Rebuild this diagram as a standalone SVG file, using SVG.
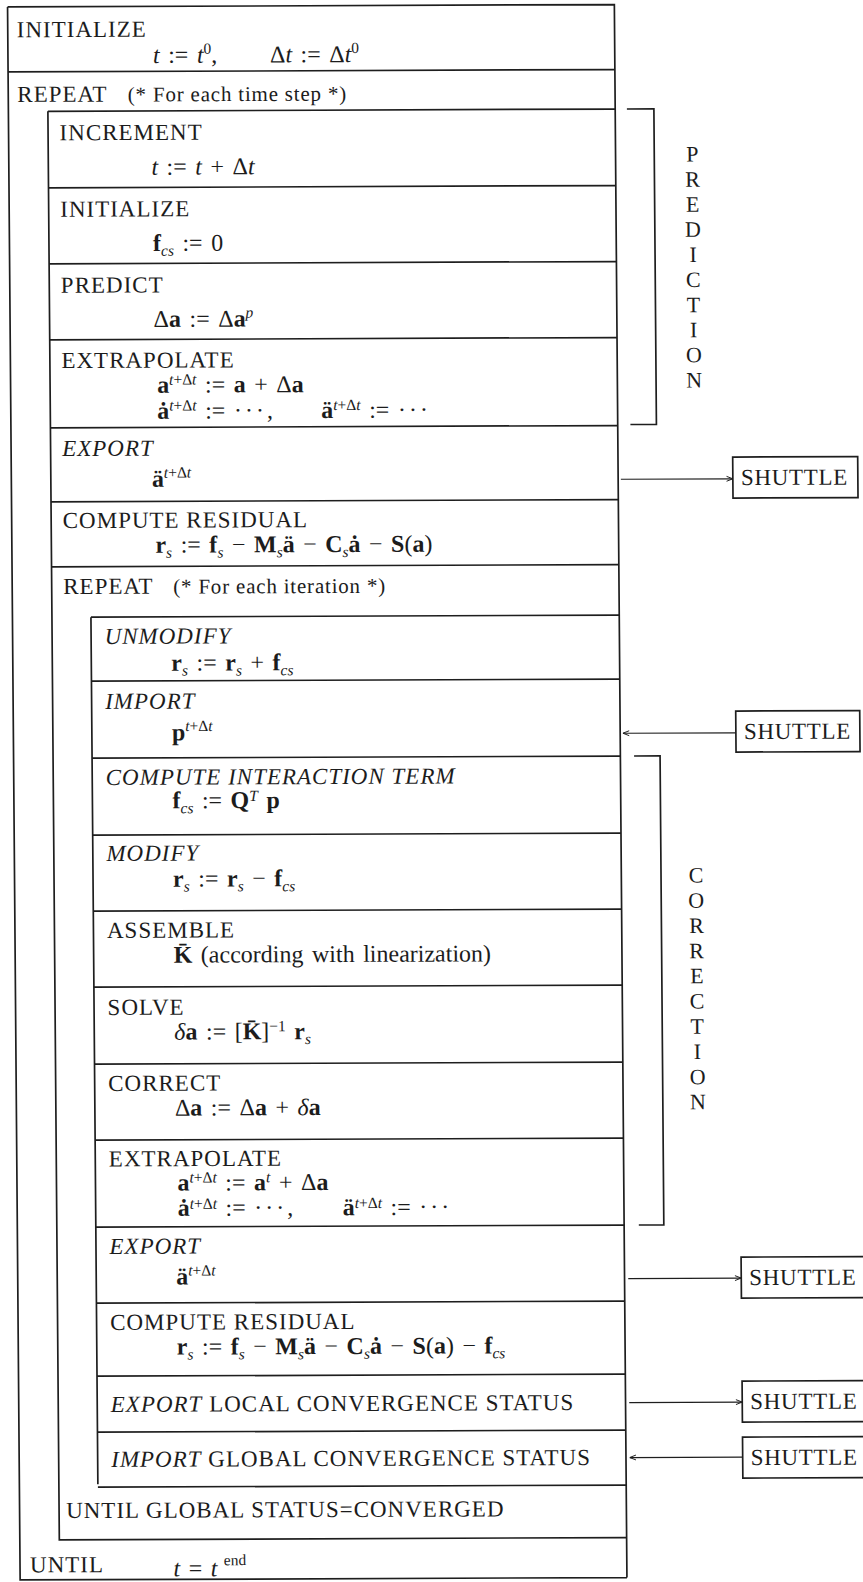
<svg xmlns="http://www.w3.org/2000/svg" width="863" height="1582" viewBox="0 0 863 1582">
<defs>
<style>
text { font-family: "Liberation Serif", "Times New Roman", serif; font-size: 23px; fill: #1c1c1c; }
.h { letter-spacing: 1px; }
.m { font-size: 24px; word-spacing: 2.5px; }
.i { font-style: italic; }
.b { font-weight: bold; }
.s { font-size: 15.5px; letter-spacing: 0; }
.c { font-size: 21px; letter-spacing: 0.8px; }
.lt { font-size: 22px; }
.sh { letter-spacing: 0.7px; }
.ln { stroke: #1e1e1e; stroke-width: 1.7; fill: none; }
.ar { stroke: #1e1e1e; stroke-width: 1.2; fill: none; }
.bx { stroke: #1e1e1e; stroke-width: 1.7; fill: #ffffff; }
</style>
<marker id="ah" viewBox="0 0 10 10" refX="10" refY="5" markerWidth="7" markerHeight="7" markerUnits="userSpaceOnUse" orient="auto">
<path d="M1,1.5 L10,5 L1,8.5" fill="none" stroke="#1e1e1e" stroke-width="1.4"/>
</marker>
</defs>
<rect width="863" height="1582" fill="#ffffff"/>
<g transform="matrix(1,-0.004,0.008,1,0,0)">

<g id="frame" class="ln">
<path d="M7.5,7 H614.3 V1580 M7.5,7 V1580 H614.3"/>
<path d="M7.5,72 H614.3"/>
<path d="M47,111.5 H614.3 M47,111.5 V1540 H614.3"/>
<path d="M47,188 H614.3 M47,264 H614.3 M47,340 H614.3 M47,428 H614.3 M47,502 H614.3 M47,567 H614.3"/>
<path d="M86,617.5 H614.3 M86,617.5 V1484.5 M86,1487.5 H614.3"/>
<path d="M86,681.5 H614.3 M86,758.5 H614.3 M86,835.5 H614.3 M86,911.5 H614.3 M86,987.5 H614.3 M86,1064.5 H614.3 M86,1140.5 H614.3 M86,1227.5 H614.3 M86,1303.5 H614.3 M86,1376.5 H614.3 M86,1432.5 H614.3"/>
</g>

<g id="n-initialize">
<text class="h" x="16.5" y="37.3">INITIALIZE</text>
<text class="m" x="152.5" y="63.5"><tspan class="i">t</tspan> := <tspan class="i">t</tspan><tspan class="s" dy="-9">0</tspan><tspan dy="9">,</tspan></text>
<text class="m" x="269.5" y="63.5">Δ<tspan class="i">t</tspan> := Δ<tspan class="i">t</tspan><tspan class="s" dy="-9">0</tspan></text>
</g>

<g id="n-repeat-time">
<text class="h" x="16.5" y="102">REPEAT</text>
<text class="c" x="127" y="102">(* For each time step *)</text>
</g>

<g id="n-increment">
<text class="h" x="58.5" y="140.5">INCREMENT</text>
<text class="m" x="150" y="175.3"><tspan class="i">t</tspan> := <tspan class="i">t</tspan> + Δ<tspan class="i">t</tspan></text>
</g>

<g id="n-initialize2">
<text class="h" x="58.5" y="217">INITIALIZE</text>
<text class="m" x="151" y="251.5"><tspan class="b">f</tspan><tspan class="s i" dy="5">cs</tspan><tspan dy="-5"> := 0</tspan></text>
</g>

<g id="n-predict">
<text class="h" x="58.5" y="293">PREDICT</text>
<text class="m" x="151" y="327.5">Δ<tspan class="b">a</tspan> := Δ<tspan class="b">a</tspan><tspan class="s i" dy="-9">p</tspan></text>
</g>

<g id="n-extrapolate1">
<text class="h" x="58.5" y="368.3">EXTRAPOLATE</text>
<text class="m" x="154" y="393.3"><tspan class="b">a</tspan><tspan class="s i" dy="-8">t</tspan><tspan class="s">+Δ</tspan><tspan class="s i">t</tspan><tspan dy="8"> := </tspan><tspan class="b">a</tspan> + Δ<tspan class="b">a</tspan></text>
<text class="m" x="154" y="419.3"><tspan class="b">ȧ</tspan><tspan class="s i" dy="-8">t</tspan><tspan class="s">+Δ</tspan><tspan class="s i">t</tspan><tspan dy="8"> := </tspan><tspan letter-spacing="3">···</tspan>,</text>
<text class="m" x="318" y="419.3"><tspan class="b">ä</tspan><tspan class="s i" dy="-8">t</tspan><tspan class="s">+Δ</tspan><tspan class="s i">t</tspan><tspan dy="8"> := </tspan><tspan letter-spacing="3">···</tspan></text>
</g>

<g id="n-export1">
<text class="h i" x="58.5" y="456.3">EXPORT</text>
<text class="m" x="148" y="487.3"><tspan class="b">ä</tspan><tspan class="s i" dy="-9">t</tspan><tspan class="s">+Δ</tspan><tspan class="s i">t</tspan></text>
</g>

<g id="n-residual1">
<text class="h" x="58.5" y="528.3">COMPUTE RESIDUAL</text>
<text class="m" x="151" y="553.3"><tspan class="b">r</tspan><tspan class="s i" dy="5">s</tspan><tspan dy="-5"> := </tspan><tspan class="b">f</tspan><tspan class="s i" dy="5">s</tspan><tspan dy="-5"> − </tspan><tspan class="b">M</tspan><tspan class="s i" dy="5">s</tspan><tspan class="b" dy="-5">ä</tspan> − <tspan class="b">C</tspan><tspan class="s i" dy="5">s</tspan><tspan class="b" dy="-5">ȧ</tspan> − <tspan class="b">S</tspan>(<tspan class="b">a</tspan>)</text>
</g>

<g id="n-repeat-iter">
<text class="h" x="58.5" y="594.3">REPEAT</text>
<text class="c" x="168.5" y="594.3">(* For each iteration *)</text>
</g>

<g id="n-unmodify">
<text class="h i" x="99.5" y="644.3">UNMODIFY</text>
<text class="m" x="166" y="671.3"><tspan class="b">r</tspan><tspan class="s i" dy="5">s</tspan><tspan dy="-5"> := </tspan><tspan class="b">r</tspan><tspan class="s i" dy="5">s</tspan><tspan dy="-5"> + </tspan><tspan class="b">f</tspan><tspan class="s i" dy="5">cs</tspan></text>
</g>

<g id="n-import">
<text class="h i" x="99.5" y="709.3">IMPORT</text>
<text class="m" x="166" y="740.8"><tspan class="b">p</tspan><tspan class="s i" dy="-9">t</tspan><tspan class="s">+Δ</tspan><tspan class="s i">t</tspan></text>
</g>

<g id="n-interaction">
<text class="h i" x="99.5" y="785.3">COMPUTE INTERACTION TERM</text>
<text class="m" x="166" y="809"><tspan class="b">f</tspan><tspan class="s i" dy="5">cs</tspan><tspan dy="-5"> := </tspan><tspan class="b">Q</tspan><tspan class="s i" dy="-7">T</tspan><tspan class="b" dy="7"> p</tspan></text>
</g>

<g id="n-modify">
<text class="h i" x="99.5" y="861.3">MODIFY</text>
<text class="m" x="166" y="887.3"><tspan class="b">r</tspan><tspan class="s i" dy="5">s</tspan><tspan dy="-5"> := </tspan><tspan class="b">r</tspan><tspan class="s i" dy="5">s</tspan><tspan dy="-5"> − </tspan><tspan class="b">f</tspan><tspan class="s i" dy="5">cs</tspan></text>
</g>

<g id="n-assemble">
<text class="h" x="99.5" y="938.3">ASSEMBLE</text>
<text class="m" x="166" y="963.3"><tspan class="b">K̄</tspan> (according with linearization)</text>
</g>

<g id="n-solve">
<text class="h" x="99.5" y="1015.3">SOLVE</text>
<text class="m" x="166" y="1040.3"><tspan class="i">δ</tspan><tspan class="b">a</tspan> := [<tspan class="b">K̄</tspan>]<tspan class="s" dy="-8">−1</tspan><tspan class="b" dy="8"> r</tspan><tspan class="s i" dy="5">s</tspan></text>
</g>

<g id="n-correct">
<text class="h" x="99.5" y="1091.3">CORRECT</text>
<text class="m" x="166" y="1116.3">Δ<tspan class="b">a</tspan> := Δ<tspan class="b">a</tspan> + <tspan class="i">δ</tspan><tspan class="b">a</tspan></text>
</g>

<g id="n-extrapolate2">
<text class="h" x="99.5" y="1166.8">EXTRAPOLATE</text>
<text class="m" x="168" y="1191.3"><tspan class="b">a</tspan><tspan class="s i" dy="-8">t</tspan><tspan class="s">+Δ</tspan><tspan class="s i">t</tspan><tspan dy="8"> := </tspan><tspan class="b">a</tspan><tspan class="s i" dy="-8">t</tspan><tspan dy="8"> + Δ</tspan><tspan class="b">a</tspan></text>
<text class="m" x="168" y="1216.5"><tspan class="b">ȧ</tspan><tspan class="s i" dy="-7">t</tspan><tspan class="s">+Δ</tspan><tspan class="s i">t</tspan><tspan dy="7"> := </tspan><tspan letter-spacing="3">···</tspan>,</text>
<text class="m" x="333" y="1216.5"><tspan class="b">ä</tspan><tspan class="s i" dy="-7">t</tspan><tspan class="s">+Δ</tspan><tspan class="s i">t</tspan><tspan dy="7"> := </tspan><tspan letter-spacing="3">···</tspan></text>
</g>

<g id="n-export2">
<text class="h i" x="99.5" y="1254.3">EXPORT</text>
<text class="m" x="166" y="1285.3"><tspan class="b">ä</tspan><tspan class="s i" dy="-9">t</tspan><tspan class="s">+Δ</tspan><tspan class="s i">t</tspan></text>
</g>

<g id="n-residual2">
<text class="h" x="99.5" y="1330.3">COMPUTE RESIDUAL</text>
<text class="m" x="166" y="1355.3"><tspan class="b">r</tspan><tspan class="s i" dy="5">s</tspan><tspan dy="-5"> := </tspan><tspan class="b">f</tspan><tspan class="s i" dy="5">s</tspan><tspan dy="-5"> − </tspan><tspan class="b">M</tspan><tspan class="s i" dy="5">s</tspan><tspan class="b" dy="-5">ä</tspan> − <tspan class="b">C</tspan><tspan class="s i" dy="5">s</tspan><tspan class="b" dy="-5">ȧ</tspan> − <tspan class="b">S</tspan>(<tspan class="b">a</tspan>) − <tspan class="b">f</tspan><tspan class="s i" dy="5">cs</tspan></text>
</g>

<g id="n-export-local">
<text class="h" x="99.5" y="1412.3"><tspan class="i">EXPORT</tspan> LOCAL CONVERGENCE STATUS</text>
</g>

<g id="n-import-global">
<text class="h" x="99.5" y="1467.3"><tspan class="i">IMPORT</tspan> GLOBAL CONVERGENCE STATUS</text>
</g>

<g id="n-until-global">
<text class="h" x="54" y="1518.3">UNTIL GLOBAL STATUS=CONVERGED</text>
</g>

<g id="n-until">
<text class="h" x="17.5" y="1572.5">UNTIL</text>
<text class="m" x="161" y="1577"><tspan class="i">t</tspan> = <tspan class="i">t</tspan><tspan class="s" dy="-11"> end</tspan></text>
</g>

<g id="prediction">
<path class="ln" d="M626,111.5 H653 V427 H627"/>
<text class="lt" text-anchor="middle"><tspan x="691" y="164.3">P</tspan><tspan x="691" y="189.4">R</tspan><tspan x="691" y="214.5">E</tspan><tspan x="691" y="239.6">D</tspan><tspan x="691" y="264.7">I</tspan><tspan x="691" y="289.8">C</tspan><tspan x="691" y="314.9">T</tspan><tspan x="691" y="340">I</tspan><tspan x="691" y="365.1">O</tspan><tspan x="691" y="390.2">N</tspan></text>
</g>

<g id="correction">
<path class="ln" d="M628,758.5 H654 V1227.5 H629"/>
<text class="lt" text-anchor="middle"><tspan x="689" y="885.3">C</tspan><tspan x="689" y="910.5">O</tspan><tspan x="689" y="935.7">R</tspan><tspan x="689" y="960.9">R</tspan><tspan x="689" y="986.1">E</tspan><tspan x="689" y="1011.3">C</tspan><tspan x="689" y="1036.5">T</tspan><tspan x="689" y="1061.7">I</tspan><tspan x="689" y="1086.9">O</tspan><tspan x="689" y="1112.1">N</tspan></text>
</g>

<g id="shuttle1"><rect class="bx" x="729" y="460" width="125" height="41"/><text class="sh" x="737" y="488">SHUTTLE</text></g>
<g id="shuttle2"><rect class="bx" x="730" y="714" width="124" height="41"/><text class="sh" x="738" y="742">SHUTTLE</text></g>
<g id="shuttle3"><rect class="bx" x="731" y="1260" width="124" height="41"/><text class="sh" x="739" y="1288">SHUTTLE</text></g>
<g id="shuttle4"><rect class="bx" x="731" y="1384" width="124" height="41"/><text class="sh" x="739" y="1412">SHUTTLE</text></g>
<g id="shuttle5"><rect class="bx" x="731" y="1440" width="124" height="41"/><text class="sh" x="739" y="1468">SHUTTLE</text></g>

<g id="connectors" class="ar">
<path d="M617,481.7 H729" marker-end="url(#ah)"/>
<path d="M730,735.7 H617" marker-end="url(#ah)"/>
<path d="M618,1281 H731" marker-end="url(#ah)"/>
<path d="M618,1405 H731" marker-end="url(#ah)"/>
<path d="M731,1460 H618" marker-end="url(#ah)"/>
</g>

</g>
</svg>
